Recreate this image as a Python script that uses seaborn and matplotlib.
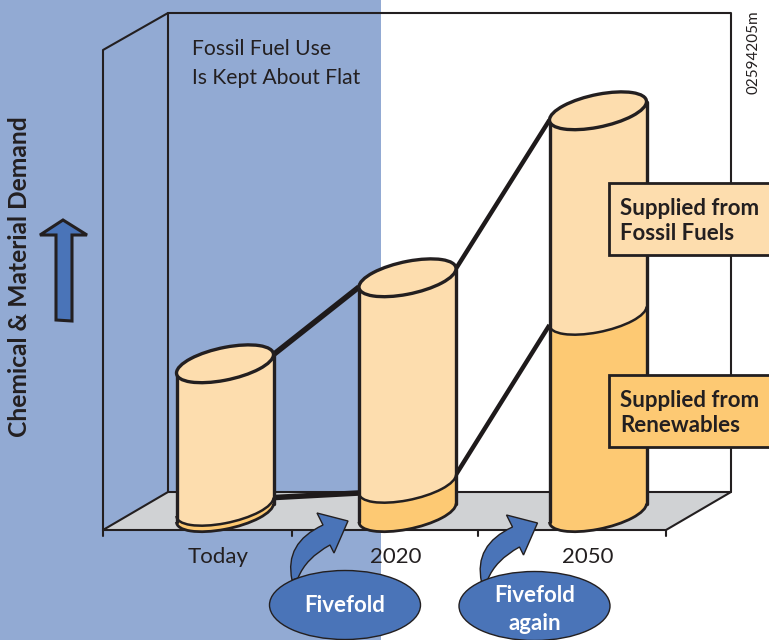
import matplotlib
matplotlib.use("Agg")
import matplotlib.pyplot as plt
import seaborn as sns
from matplotlib.patches import Ellipse, PathPatch, Polygon, Rectangle
from matplotlib.path import Path
from matplotlib.transforms import Affine2D

# Chart data (one unit = one pixel of cylinder height)
categories = ["Today", "2020", "2050"]
total_demand = [149, 235, 402]
renewables = [6, 29, 197]

# Layout
bar_centres = [225, 407.5, 598]
bar_width = 97
base_y = 522
tilt = 0.19
cap_height = 33
label_x = [218, 396, 588]

INK = "#231F20"
PANEL = "#92AAD3"
FLOOR = "#D0D2D4"
FOSSIL = "#FDDDAE"
RENEW = "#FDC973"
BLUE = "#4A74B8"

sns.set_theme(style="white")
plt.rcParams["font.family"] = ["Lato", "Liberation Sans", "DejaVu Sans"]

fig = plt.figure(figsize=(7.69, 6.40), dpi=100)


def full_axes(zorder, flip=True):
    a = fig.add_axes([0, 0, 1, 1], zorder=zorder)
    a.set_xlim(0, 769)
    if flip:
        a.set_ylim(640, 0)
    a.axis("off")
    return a


# Background layer: panel, floor and frame of the box
bg = full_axes(0)
bg.add_patch(Rectangle((0, 0), 381, 640, fc=PANEL, ec="none"))
bg.add_patch(Polygon([(103, 530), (168, 492), (731, 492), (666, 530)], fc=FLOOR, ec="none"))
frame = dict(color=INK, lw=1.5, solid_capstyle="round")
bg.plot([103, 103, 168, 731, 731], [530, 50, 13, 13, 492], **frame)
bg.plot([168, 168], [13, 492], **frame)
bg.plot([103, 168, 731, 666, 103], [530, 492, 492, 530, 530], **frame)
for tx in [103, 292, 478, 666]:
    bg.plot([tx, tx], [530, 536], **frame)

# Bars: seaborn draws them, the shear turns them into tilted cylinders
ax = full_axes(1, flip=False)
sns.barplot(x=bar_centres, y=total_demand, native_scale=True, width=bar_width / 182.5,
            color=FOSSIL, saturation=1, ax=ax)
sns.barplot(x=bar_centres, y=renewables, native_scale=True, width=bar_width / 182.5,
            color=RENEW, saturation=1, ax=ax)
ax.set_xlim(0, 769)
ax.set_ylim(base_y - 640, base_y)
ax.axis("off")

n = len(categories)
lefts = [p.get_x() for p in ax.patches[:n]]


def shear_tf(x0):
    return Affine2D.from_values(1, tilt, 0, 1, 0, -tilt * x0) + ax.transData


for i, p in enumerate(ax.patches):
    p.set_transform(shear_tf(lefts[i % n]))
    p.set_edgecolor("none")

half = bar_width / 2
for x0, xc, total, ren in zip(lefts, bar_centres, total_demand, renewables):
    tf = shear_tf(x0)
    # rounded foot of the cylinder
    ax.add_patch(Ellipse((xc, 0), bar_width, cap_height, fc=RENEW, ec="none", transform=tf, zorder=1.5))
    # border between the two supplies
    ax.add_patch(Ellipse((xc, ren), bar_width, cap_height, fc=FOSSIL, ec="none", transform=tf, zorder=2))
    lower = Path.arc(180, 360)
    for level, lw in [(ren, 1.8), (0, 2.0)]:
        arc_tf = Affine2D().scale(half, cap_height / 2).translate(xc, level) + tf
        ax.add_patch(PathPatch(lower, fc="none", ec=INK, lw=lw, transform=arc_tf, zorder=3))
    # sides and top cap
    ax.plot([x0, x0], [0, total], color=INK, lw=2.4, transform=tf, zorder=3, solid_capstyle="round")
    ax.plot([x0 + bar_width] * 2, [0, total], color=INK, lw=2.4, transform=tf, zorder=3, solid_capstyle="round")
    ax.add_patch(Ellipse((xc, total), bar_width, cap_height, fc=FOSSIL, ec=INK, lw=2.4, transform=tf, zorder=4))

# Connecting lines between the cylinders
for series in [total_demand, renewables]:
    for i, lw in zip(range(n - 1), [4.0, 3.2]):
        xa = lefts[i] + bar_width
        xb = lefts[i + 1]
        ya = series[i] + tilt * bar_width
        ax.plot([xa, xb], [ya, series[i + 1]], color="#1E1A1B", lw=lw, zorder=0.5,
                solid_capstyle="butt")

# Top layer: labels, callouts and arrows
top = full_axes(2)
for lx, cat in zip(label_x, categories):
    top.text(lx, 557, cat, ha="center", va="center", fontsize=16, color=INK)

top.text(192, 49, "Fossil Fuel Use", ha="left", va="center", fontsize=15.2, color=INK)
top.text(192, 78, "Is Kept About Flat", ha="left", va="center", fontsize=15.2, color=INK)
top.text(20, 277, "Chemical & Material Demand", rotation=90, ha="center", va="center",
         fontsize=17.7, fontweight="bold", color=INK)
top.text(753, 52, "02594205m", rotation=90, ha="center", va="center", fontsize=11, color=INK)

for by, colour, lines in [(183, FOSSIL, "Supplied from\nFossil Fuels"),
                          (375, RENEW, "Supplied from\nRenewables")]:
    top.add_patch(Rectangle((609, by), 170, 72, fc=colour, ec=INK, lw=2))
    top.text(620, by + 38, lines, ha="left", va="center", fontsize=16, fontweight="bold",
             color=INK, linespacing=1.2)

# Up arrow next to the axis title
top.add_patch(Polygon([(63, 220), (87, 235), (72, 235), (72, 321), (56, 320), (56, 235), (40, 235)],
                      fc=BLUE, ec=INK, lw=2.2, joinstyle="miter"))


def curved_arrow(dx, dy):
    verts = [(292, 580), (284, 543), (323, 525), (317, 513), (348, 521), (334, 553), (330, 545),
             (306, 558), (298, 578), (292, 580)]
    codes = [Path.MOVETO, Path.CURVE3, Path.CURVE3, Path.LINETO, Path.LINETO, Path.LINETO,
             Path.LINETO, Path.CURVE3, Path.CURVE3, Path.CLOSEPOLY]
    verts = [(x + dx, y + dy) for x, y in verts]
    top.add_patch(PathPatch(Path(verts, codes), fc=BLUE, ec=INK, lw=1.0))


curved_arrow(0, 0)
curved_arrow(189.5, 2)

top.add_patch(Ellipse((345, 605), 151, 69, fc=BLUE, ec=INK, lw=1.0))
top.add_patch(Ellipse((534.5, 606), 151, 69, fc=BLUE, ec=INK, lw=1.0))
top.text(345, 605, "Fivefold", ha="center", va="center", fontsize=16, fontweight="bold", color="white")
top.text(535, 596, "Fivefold", ha="center", va="center", fontsize=16, fontweight="bold", color="white")
top.text(535, 623, "again", ha="center", va="center", fontsize=16, fontweight="bold", color="white")

fig.savefig("out.png", dpi=100)
